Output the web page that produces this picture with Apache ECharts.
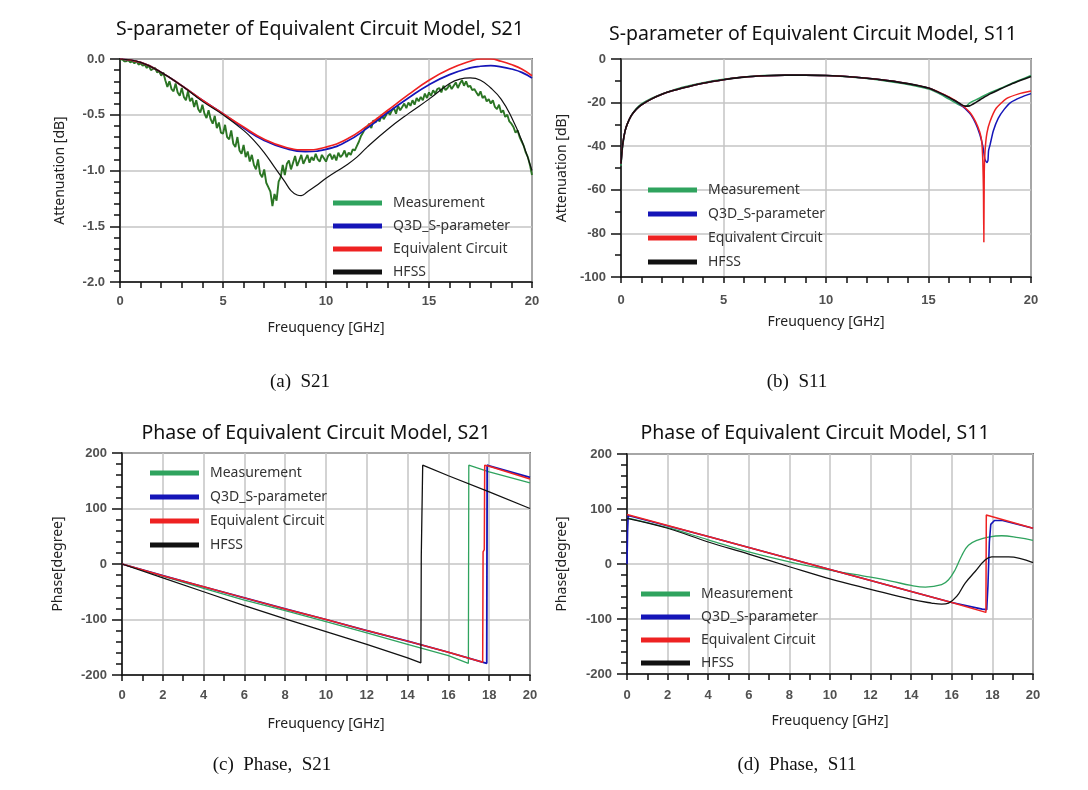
<!DOCTYPE html>
<html><head><meta charset="utf-8">
<script src="https://cdn.jsdelivr.net/npm/echarts/dist/echarts.min.js"></script>
<style>html,body{margin:0;padding:0;background:#fff}#c{width:1088px;height:790px}</style>
</head><body><div id="c"></div>
<script>
// ---------- legend / text ----------
const seriesNames = ['Measurement', 'Q3D_S-parameter', 'Equivalent Circuit', 'HFSS'];
const panelTitles = ['S-parameter of Equivalent Circuit Model, S21', 'S-parameter of Equivalent Circuit Model, S11',
  'Phase of Equivalent Circuit Model, S21', 'Phase of Equivalent Circuit Model, S11'];
const captions = ['(a)  S21', '(b)  S11', '(c)  Phase,  S21', '(d)  Phase,  S11'];
const xName = 'Freuquency [GHz]';
const yNames = ['Attenuation [dB]', 'Attenuation [dB]', 'Phase[degree]', 'Phase[degree]'];

// ---------- (a) S21 magnitude ----------
const s21MeasVal = [
 -0.01,0.00,-0.02,-0.02,-0.01,-0.03,-0.02,-0.04,-0.02,-0.05,
 -0.04,-0.06,-0.05,-0.08,-0.06,-0.10,-0.09,-0.08,-0.12,-0.11,
 -0.15,-0.12,-0.19,-0.25,-0.20,-0.27,-0.29,-0.22,-0.30,-0.33,
 -0.26,-0.34,-0.37,-0.29,-0.38,-0.35,-0.43,-0.37,-0.45,-0.48,
 -0.41,-0.49,-0.53,-0.46,-0.54,-0.58,-0.51,-0.62,-0.57,-0.66,
 -0.67,-0.59,-0.70,-0.72,-0.64,-0.76,-0.79,-0.70,-0.82,-0.85,
 -0.77,-0.88,-0.83,-0.92,-0.86,-0.95,-0.99,-0.90,-1.03,-1.06,
 -0.99,-1.11,-1.15,-1.19,-1.32,-1.21,-1.27,-1.10,-1.06,-0.95,
 -1.04,-0.94,-0.91,-0.99,-0.93,-0.87,-0.96,-0.91,-0.86,-0.94,
 -0.90,-0.86,-0.93,-0.88,-0.91,-0.85,-0.90,-0.92,-0.86,-0.89,
 -0.92,-0.87,-0.85,-0.90,-0.86,-0.91,-0.84,-0.88,-0.86,-0.82,
 -0.88,-0.84,-0.86,-0.81,-0.82,-0.78,-0.74,-0.69,-0.66,-0.62,
 -0.61,-0.58,-0.62,-0.55,-0.57,-0.53,-0.56,-0.50,-0.54,-0.51,
 -0.47,-0.50,-0.46,-0.44,-0.49,-0.42,-0.46,-0.43,-0.40,-0.44,
 -0.39,-0.42,-0.37,-0.41,-0.35,-0.38,-0.34,-0.37,-0.31,-0.35,
 -0.30,-0.33,-0.28,-0.31,-0.27,-0.26,-0.30,-0.24,-0.28,-0.26,
 -0.23,-0.27,-0.24,-0.21,-0.26,-0.22,-0.19,-0.24,-0.20,-0.25,
 -0.24,-0.28,-0.27,-0.30,-0.33,-0.29,-0.35,-0.33,-0.38,-0.36,
 -0.40,-0.37,-0.43,-0.45,-0.41,-0.48,-0.46,-0.52,-0.50,-0.56,
 -0.58,-0.61,-0.66,-0.64,-0.70,-0.74,-0.78,-0.84,-0.88,-0.95,
 -1.04];
const s21MeasFreq = s21MeasVal.map((v, i) => i / 10); // 0.1 GHz sweep grid
const s21Q3dFreq = [0,1,2,3,4,5,6,7,8,9,10,11,12,13,14,15,16,17,17.5,18,18.5,19,19.5,20];
const s21Q3dVal  = [0,-0.03,-0.12,-0.24,-0.37,-0.49,-0.62,-0.73,-0.80,-0.83,-0.81,-0.74,-0.62,-0.48,-0.35,-0.23,-0.14,-0.08,-0.065,-0.06,-0.07,-0.09,-0.12,-0.17];
const s21EcFreq  = [0,1,2,3,4,5,6,7,8,9,10,11,12,13,14,15,16,17,17.5,18,18.5,19,19.5,20];
const s21EcVal   = [0,-0.03,-0.12,-0.24,-0.37,-0.49,-0.61,-0.72,-0.79,-0.815,-0.79,-0.72,-0.60,-0.46,-0.32,-0.19,-0.09,-0.02,0,0,-0.02,-0.05,-0.09,-0.15];
const s21HfssFreq = [0,1,2,3,4,5,6,6.5,7,7.5,8,8.3,8.6,8.8,9.1,9.5,10,11,11.5,12,13,14,15,16,16.5,17,17.5,18,18.5,19,19.5,20];
const s21HfssVal  = [0,-0.03,-0.12,-0.24,-0.38,-0.50,-0.64,-0.73,-0.84,-0.97,-1.10,-1.18,-1.22,-1.225,-1.19,-1.14,-1.07,-0.95,-0.88,-0.79,-0.63,-0.49,-0.36,-0.22,-0.18,-0.17,-0.19,-0.26,-0.36,-0.52,-0.73,-1.0];

// ---------- (b) S11 magnitude ----------
const s11MeasFreq = [0,0.05,0.1,0.2,0.3,0.5,0.75,1,1.5,2,2.5,3,4,5,6,7,8,9,10,11,12,13,14,15,15.5,16,16.3,16.6,16.8,17,17.5,18,18.5,19,19.5,20];
const s11MeasVal  = [-49,-43,-39,-33,-30,-26,-22.7,-20.6,-18,-16,-14.4,-13,-10.9,-9.3,-8.2,-7.6,-7.4,-7.4,-7.6,-8.1,-9.0,-10.2,-11.7,-13.8,-15.8,-18.4,-20.0,-21.5,-21.8,-20.2,-17.9,-15.4,-13.5,-11.4,-9.5,-7.6];
const s11Q3dFreq = [0,0.05,0.1,0.2,0.3,0.5,0.75,1,1.5,2,2.5,3,4,5,6,7,8,9,10,11,12,13,14,15,15.5,16,16.5,17,17.3,17.5,17.65,17.75,17.85,17.9,17.93,18.0,18.16,18.4,18.7,19,19.5,20];
const s11Q3dVal  = [-48,-42,-38,-33,-30,-26,-23,-21,-18.3,-16.2,-14.6,-13.3,-11.1,-9.5,-8.3,-7.7,-7.4,-7.4,-7.6,-8.0,-8.8,-9.9,-11.3,-13.3,-15.3,-17.6,-20.5,-24.8,-29.5,-34.5,-40,-46,-47.5,-46.5,-42,-39.5,-33,-27.2,-23,-20,-17.6,-15.9];
const s11EcFreq = [0,0.05,0.1,0.2,0.3,0.5,0.75,1,1.5,2,2.5,3,4,5,6,7,8,9,10,11,12,13,14,15,15.5,16,16.5,17,17.3,17.5,17.6,17.65,17.68,17.7,17.72,17.76,17.85,18,18.3,18.8,19.4,20];
const s11EcVal  = [-48,-42,-38,-33,-30,-26,-23,-21,-18.3,-16.2,-14.6,-13.3,-11.1,-9.5,-8.3,-7.7,-7.4,-7.4,-7.6,-8.0,-8.8,-9.9,-11.3,-13.3,-15.2,-17.4,-20.3,-24.3,-28.8,-33.5,-38,-47,-60,-84,-52,-42,-34,-28.7,-22.6,-18.2,-16.0,-14.7];
const s11HfssFreq = [0,0.05,0.1,0.2,0.3,0.5,0.75,1,1.5,2,2.5,3,4,5,6,7,8,9,10,11,12,13,14,15,15.5,16,16.5,16.8,17,17.2,17.5,18,18.5,19,19.5,20];
const s11HfssVal  = [-48,-42,-38,-33,-30,-26,-23,-21,-18.3,-16.2,-14.6,-13.3,-11.1,-9.5,-8.3,-7.7,-7.4,-7.4,-7.6,-8.0,-8.8,-9.9,-11.3,-13.3,-15.3,-17.6,-20.3,-21.6,-21.5,-20.5,-18.8,-16.0,-13.8,-11.7,-9.8,-8.0];

// ---------- (c) S21 phase ----------
const p21MeasFreq = [0,2,4,6,8,10,12,14,16,16.98,17.0,18,19,20];
const p21MeasVal  = [0,-22,-44,-65,-84,-104,-124,-145,-165,-179,178,166,156,146];
const p21Q3dFreq = [0,2,4,6,8,10,12,14,16,17.88,17.9,18,20];
const p21Q3dVal  = [0,-21,-41,-61,-81,-100,-120,-139,-159,-179,178,177,156];
const p21EcFreq = [0,2,4,6,8,10,12,14,16,17.68,17.7,17.76,17.78,18,20];
const p21EcVal  = [0,-21,-41,-61,-81,-100,-120,-139,-159,-177,22,26,178,176,153];
const p21HfssFreq = [0,2,4,6,8,10,12,14,14.65,14.67,14.72,14.74,16,18,20];
const p21HfssVal  = [0,-25,-50,-75,-99,-122,-145,-169,-178,12,14,178,159,130,100];

// ---------- (d) S11 phase ----------
const p11MeasFreq = [0,2,4,6,8,10,12,13,14,14.7,15.5,15.84,16.16,16.5,16.82,17.31,17.8,18.46,19.28,20];
const p11MeasVal  = [84,66,44,22,4,-11,-24,-31,-39,-42,-37.6,-28.7,-10.8,16,34,44,49,51.4,47.8,43];
const p11Q3dFreq = [0,0.03,0.06,4,8,12,16,17.5,17.72,17.78,17.85,17.92,18.1,18.5,20];
const p11Q3dVal  = [0,60,88,50,10,-30,-70,-82,-83,-40,40,72,79,79,65];
const p11EcFreq = [0,4,8,12,16,17.68,17.7,20];
const p11EcVal  = [90,50,10,-30,-70,-88,89,65];
const p11HfssFreq = [0,2,4,6,8,9,10,12,14,15,15.5,15.84,16.25,16.66,17.15,17.64,17.97,18.8,20];
const p11HfssVal  = [83,65,40,18,-5,-16,-27,-46,-64.5,-71,-73,-71,-58.5,-34.6,-13.7,7.2,13,13,2.4];

// ---------- build ----------
const zip = (f, v) => f.map((x, i) => [x, v[i]]);
const C = {meas: '#2fa35e', measDark: '#2b7524', q3d: '#1515b8', ec: '#ee2222', hfss: '#111111'};

const grids = [
  {left: 120, top: 59, width: 412, height: 223},
  {left: 621, top: 59, width: 410, height: 218},
  {left: 122, top: 453, width: 408, height: 222},
  {left: 627, top: 454, width: 406, height: 220}
];
const gridOpts = grids.map(g => Object.assign({show: true, borderColor: '#111', borderWidth: 1.5, backgroundColor: 'transparent'}, g));

const tickFont = {fontFamily: 'Liberation Sans, Arial', fontWeight: 'bold', fontSize: 13, color: '#505050'};
const nameFont = {fontFamily: 'Noto Sans', fontSize: 14, color: '#222'};
const axisLineS = {onZero: false, lineStyle: {color: '#111', width: 1.5}};
const splitS = {show: true, lineStyle: {color: '#c4c4c4', width: 1.5}};

function xAx(gi, interval, minorSplit, nameGap, margin) {
  return {type: 'value', gridIndex: gi, min: 0, max: 20, interval: interval,
    name: xName, nameLocation: 'middle', nameGap: nameGap, nameTextStyle: nameFont,
    axisLine: axisLineS,
    axisTick: {show: true, length: 6, lineStyle: {color: '#111', width: 1.5}},
    minorTick: {show: true, splitNumber: minorSplit, length: 6, lineStyle: {color: '#111', width: 1.5}},
    axisLabel: Object.assign({margin: margin}, tickFont),
    splitLine: splitS};
}
function yAx(gi, min, max, interval, minorSplit, nameGap, fmt) {
  return {type: 'value', gridIndex: gi, min: min, max: max, interval: interval,
    name: yNames[gi], nameLocation: 'middle', nameGap: nameGap, nameTextStyle: nameFont,
    axisLine: axisLineS,
    axisTick: {show: true, length: 10, lineStyle: {color: '#111', width: 1.5}},
    minorTick: {show: true, splitNumber: minorSplit, length: 6, lineStyle: {color: '#111', width: 1.5}},
    axisLabel: Object.assign({margin: 15, formatter: fmt}, tickFont),
    splitLine: splitS};
}

function line(name, gi, data, color, width, smooth) {
  return {type: 'line', name: name, xAxisIndex: gi, yAxisIndex: gi, data: data,
    showSymbol: false, symbol: 'none', smooth: smooth || false,
    lineStyle: {color: color, width: width}, itemStyle: {color: color}, animation: false};
}

const series = [
  line(seriesNames[0], 0, zip(s21MeasFreq, s21MeasVal), C.measDark, 1.9, false),
  line(seriesNames[1], 0, zip(s21Q3dFreq, s21Q3dVal), C.q3d, 1.7, 0.5),
  line(seriesNames[2], 0, zip(s21EcFreq, s21EcVal), C.ec, 1.7, 0.5),
  line(seriesNames[3], 0, zip(s21HfssFreq, s21HfssVal), C.hfss, 1.2, 0.45),

  line(seriesNames[0], 1, zip(s11MeasFreq, s11MeasVal), C.meas, 1.5, 0.3),
  line(seriesNames[1], 1, zip(s11Q3dFreq, s11Q3dVal), C.q3d, 1.5, 0.2),
  line(seriesNames[2], 1, zip(s11EcFreq, s11EcVal), C.ec, 1.5, 0.2),
  line(seriesNames[3], 1, zip(s11HfssFreq, s11HfssVal), C.hfss, 1.6, 0.3),

  line(seriesNames[0], 2, zip(p21MeasFreq, p21MeasVal), C.meas, 1.3, false),
  line(seriesNames[1], 2, zip(p21Q3dFreq, p21Q3dVal), C.q3d, 1.8, false),
  line(seriesNames[2], 2, zip(p21EcFreq, p21EcVal), C.ec, 1.5, false),
  line(seriesNames[3], 2, zip(p21HfssFreq, p21HfssVal), C.hfss, 1.3, false),

  line(seriesNames[0], 3, zip(p11MeasFreq, p11MeasVal), C.meas, 1.3, 0.4),
  line(seriesNames[1], 3, zip(p11Q3dFreq, p11Q3dVal), C.q3d, 1.6, false),
  line(seriesNames[2], 3, zip(p11EcFreq, p11EcVal), C.ec, 1.5, false),
  line(seriesNames[3], 3, zip(p11HfssFreq, p11HfssVal), C.hfss, 1.3, 0.4)
];

const legendColors = [C.meas, C.q3d, C.ec, C.hfss];
function legend(left, top, gap) {
  return {orient: 'vertical', left: left, top: top, itemWidth: 49, itemHeight: 5, itemGap: gap,
    icon: 'rect', selectedMode: false,
    textStyle: {fontFamily: 'Noto Sans', fontSize: 14, color: '#333', padding: [0, 0, 0, 6]},
    data: seriesNames.map((n, i) => ({name: n, icon: 'rect', itemStyle: {color: legendColors[i]}}))};
}

const titlePos = [[320, 29], [813, 34], [316, 433], [815, 433]];
const captionPos = [[300, 382], [797, 382], [272, 765], [797, 765]];
const graphics = [];
panelTitles.forEach((t, i) => graphics.push({type: 'text', x: titlePos[i][0], y: titlePos[i][1],
  style: {text: t, font: '19.5px "Noto Sans"', fill: '#111', textAlign: 'center', textVerticalAlign: 'middle'}}));
captions.forEach((t, i) => graphics.push({type: 'text', x: captionPos[i][0], y: captionPos[i][1],
  style: {text: t, font: '19px "Liberation Serif"', fill: '#111', textAlign: 'center', textVerticalAlign: 'middle'}}));

const chart = echarts.init(document.getElementById('c'), null, {renderer: 'canvas'});
chart.setOption({
  backgroundColor: '#fff',
  animation: false,
  grid: gridOpts,
  xAxis: [xAx(0, 5, 5, 39, 13), xAx(1, 5, 5, 38, 17), xAx(2, 2, 2, 42, 14), xAx(3, 2, 2, 40, 15)],
  yAxis: [
    yAx(0, -2, 0, 0.5, 5, 53, v => v.toFixed(1)),
    yAx(1, -100, 0, 20, 2, 52, v => String(v)),
    yAx(2, -200, 200, 100, 5, 57, v => String(v)),
    yAx(3, -200, 200, 100, 5, 58, v => String(v))
  ],
  legend: [legend(328, 191, 9), legend(643, 178, 10), legend(145, 461, 10), legend(636, 582, 9)],
  graphic: graphics,
  series: series
});
</script>
</body></html>
